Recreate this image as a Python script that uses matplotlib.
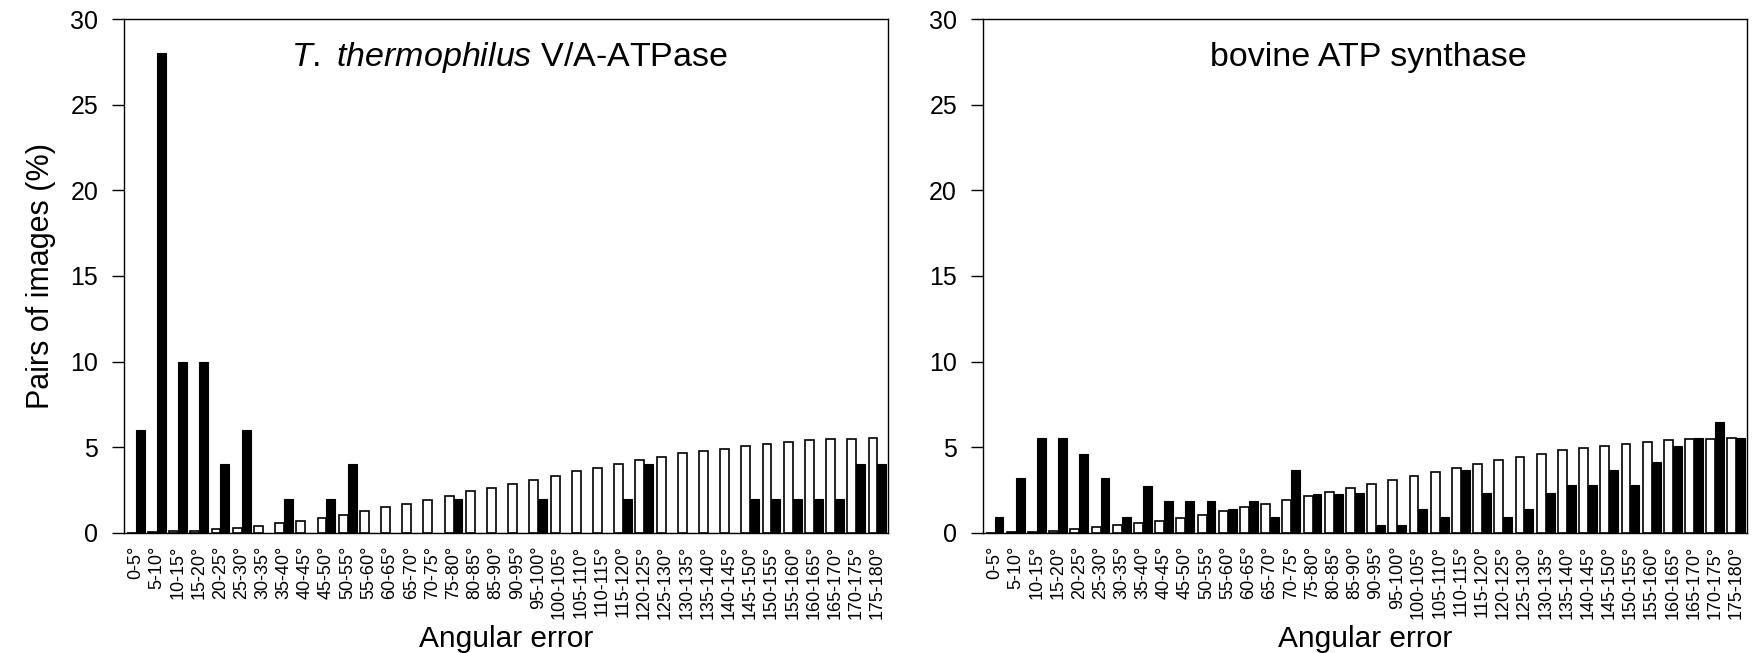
import numpy as np
from matplotlib import pyplot as plt

plt.rcParams["font.family"] = ["Liberation Sans", "DejaVu Sans"]
plt.rcParams["mathtext.fontset"] = "custom"
plt.rcParams["mathtext.rm"] = "Liberation Sans"
plt.rcParams["mathtext.it"] = "Liberation Sans:italic"

# angular error bins, 5 degree steps
bins = ["%d-%d°" % (a, a + 5) for a in range(0, 180, 5)]

# T. thermophilus V/A-ATPase
tth_open = [0.02, 0.05, 0.10, 0.12, 0.21, 0.31, 0.43, 0.56, 0.72, 0.87,
            1.03, 1.26, 1.50, 1.69, 1.92, 2.13, 2.43, 2.62, 2.85, 3.12,
            3.34, 3.61, 3.80, 4.04, 4.25, 4.41, 4.64, 4.79, 4.93, 5.09,
            5.18, 5.32, 5.40, 5.47, 5.49, 5.55]
tth_filled = [6, 28, 10, 10, 4, 6, 0, 2, 0, 2,
              4, 0, 0, 0, 0, 2, 0, 0, 0, 2,
              0, 0, 0, 2, 4, 0, 0, 0, 0, 2,
              2, 2, 2, 2, 4, 4]

# bovine ATP synthase
bov_open = [0.0, 0.05, 0.08, 0.14, 0.23, 0.35, 0.47, 0.58, 0.72, 0.87,
            1.03, 1.26, 1.50, 1.67, 1.92, 2.13, 2.41, 2.62, 2.87, 3.12,
            3.35, 3.58, 3.81, 4.03, 4.26, 4.43, 4.61, 4.82, 4.96, 5.09,
            5.17, 5.33, 5.43, 5.49, 5.51, 5.55]
bov_filled = [0.91, 3.22, 5.53, 5.53, 4.62, 3.22, 0.91, 2.76, 1.84, 1.84,
              1.84, 1.38, 1.84, 0.91, 3.69, 2.29, 2.29, 2.31, 0.47, 0.47,
              1.39, 0.93, 3.69, 2.31, 0.93, 1.39, 2.31, 2.78, 2.78, 3.69,
              2.78, 4.15, 5.09, 5.55, 6.47, 5.55]

titles = [r"$\mathit{T.}$ $\mathit{thermophilus}$ V/A-ATPase",
          "bovine ATP synthase"]

fig = plt.figure(figsize=(17.54, 6.53), dpi=100)
ax1 = fig.add_axes([0.0707, 0.1838, 0.4356, 0.7871])
ax2 = fig.add_axes([0.5604, 0.1838, 0.4356, 0.7871])

x = np.arange(len(bins))
w = 0.42

for ax, op, fi, title in [(ax1, tth_open, tth_filled, titles[0]),
                          (ax2, bov_open, bov_filled, titles[1])]:
    ax.bar(x - w / 2, op, w, color="white", edgecolor="black", linewidth=1.2)
    ax.bar(x + w / 2, fi, w, color="black", edgecolor="black", linewidth=0.8)
    ax.set_xlim(-0.55, 35.5)
    ax.set_ylim(0, 30)
    ax.set_yticks(range(0, 31, 5))
    ax.set_xticks(x)
    ax.set_xticklabels(bins, rotation=90, fontsize=13)
    ax.tick_params(axis="x", length=0, pad=9)
    ax.tick_params(axis="y", length=8.6, width=1, pad=10, labelsize=18)
    for s in ax.spines.values():
        s.set_linewidth(1)
    ax.set_xlabel("Angular error", fontsize=21.5, labelpad=4)
    ax.text(0.505, 0.925, title, transform=ax.transAxes, ha="center",
            va="center", fontsize=24.5)

ax1.set_ylabel("Pairs of images (%)", fontsize=22, labelpad=10)

plt.savefig("out.png", dpi=100)
